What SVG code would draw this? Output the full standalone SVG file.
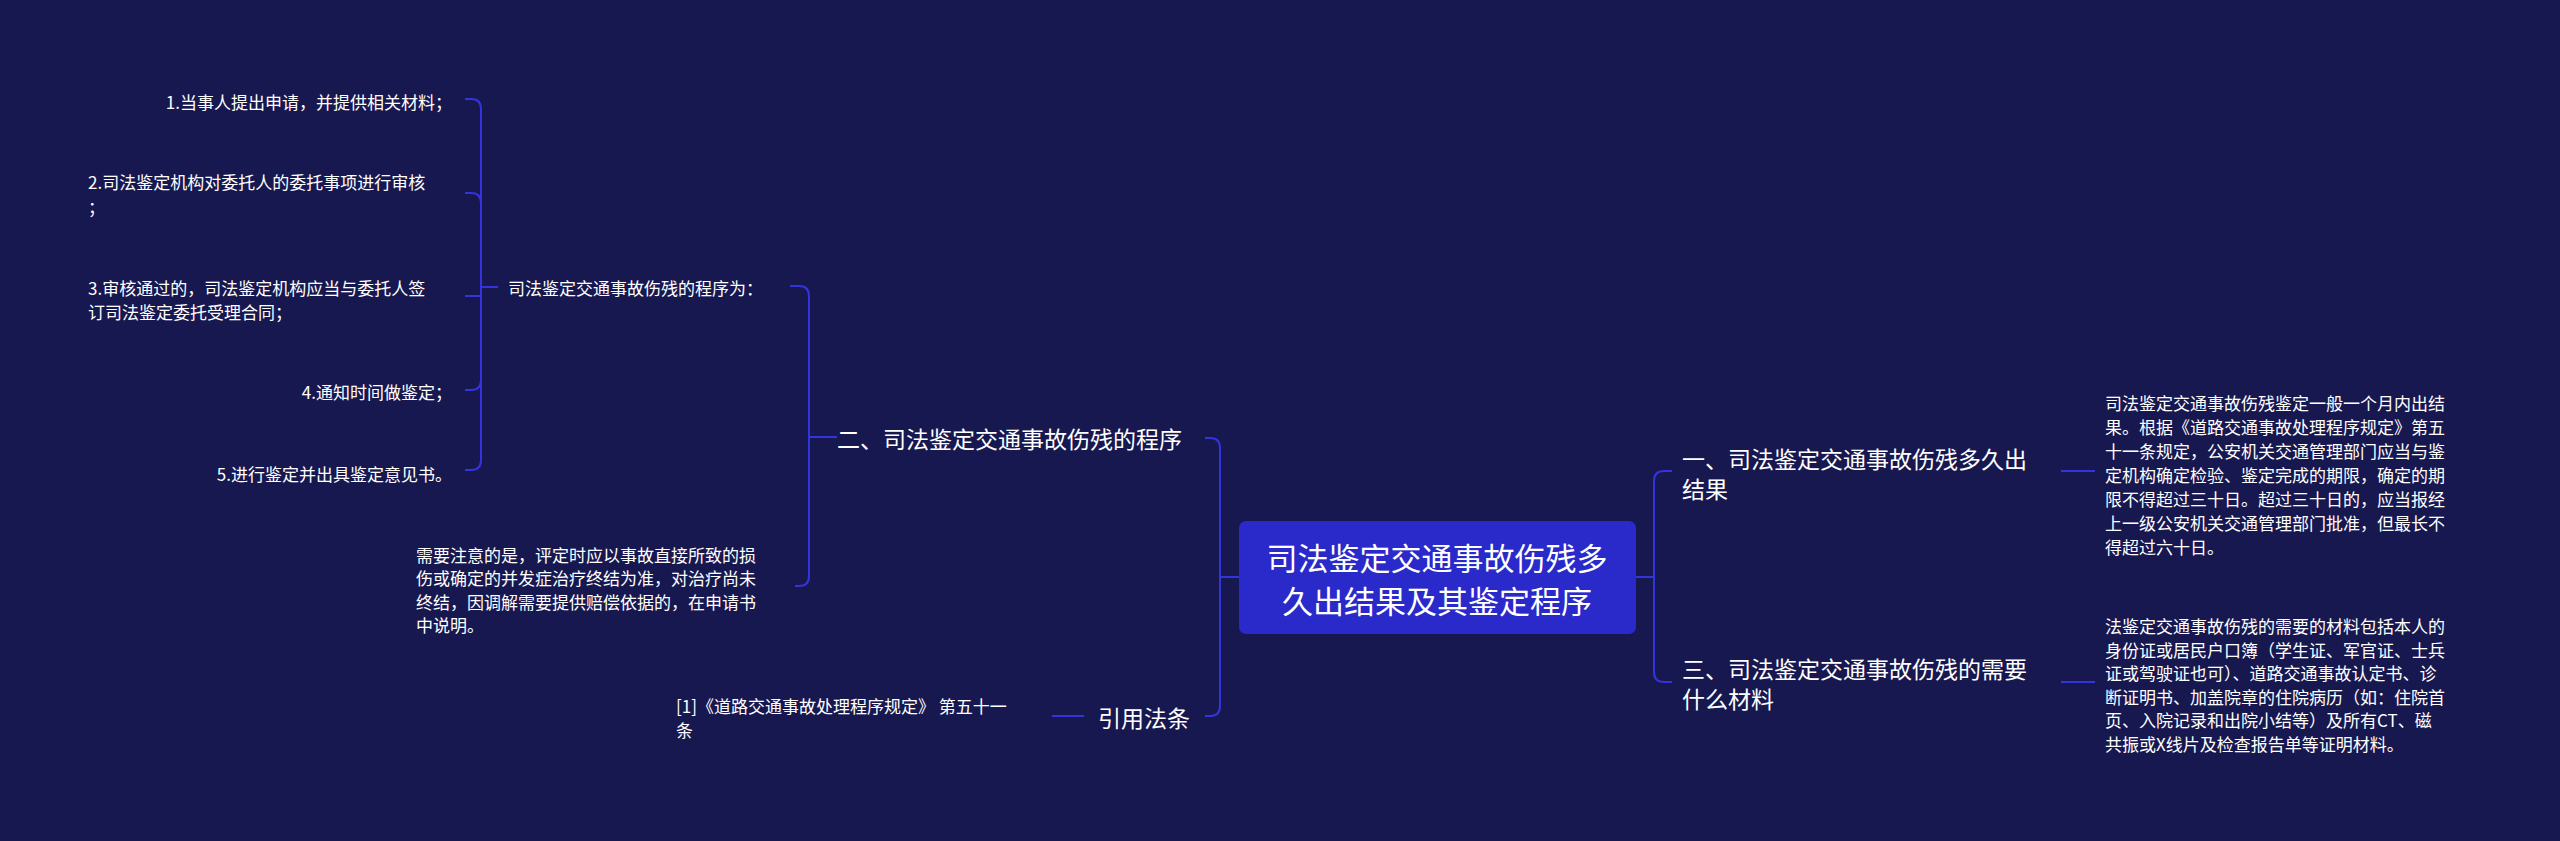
<svg xmlns="http://www.w3.org/2000/svg" width="2560" height="841" viewBox="0 0 2560 841">
<style>
text{font-family:"Noto Sans CJK SC","Noto Sans",sans-serif;fill:#ffffff;dominant-baseline:central}
.s{font-size:17px}.m{font-size:23px}.c{font-size:31px}
.e{text-anchor:end}
#connectors path{fill:none;stroke:#3434dc;stroke-width:2}
</style>
<rect width="2560" height="841" fill="#181850"/>
<g id="connectors">
<path d="M1636 577 H1654 V481 Q1654 471 1664 471 H1672"/>
<path d="M1654 577 V672 Q1654 682 1664 682 H1672"/>
<path d="M2061 471 H2095"/>
<path d="M2061 682 H2095"/>
<path d="M1239 577 H1220 V448 Q1220 438 1210 438 H1205"/>
<path d="M1220 577 V706 Q1220 716 1210 716 H1205"/>
<path d="M837 437 H809 V296 Q809 286 799 286 H790"/>
<path d="M809 437 V576 Q809 586 799 586 H795"/>
<path d="M1052 716 H1084"/>
<path d="M498 287 H481 V109 Q481 99 471 99 H465"/>
<path d="M481 287 V203 Q481 193 471 193 H465"/>
<path d="M481 287 V296 H465"/>
<path d="M481 287 V380 Q481 390 471 390 H465"/>
<path d="M481 287 V460 Q481 470 471 470 H465"/>
</g>
<g id="center">
<rect x="1239" y="521" width="397" height="113" rx="7" fill="#2a2acb"/>
<text class="c" x="1437" y="556" text-anchor="middle">司法鉴定交通事故伤残多</text>
<text class="c" x="1437" y="599" text-anchor="middle">久出结果及其鉴定程序</text>
</g>
<g id="b1">
<text class="m" x="1682" y="458">一、司法鉴定交通事故伤残多久出</text>
<text class="m" x="1682" y="488">结果</text>
</g>
<g id="b1d">
<text class="s" x="2105" y="402">司法鉴定交通事故伤残鉴定一般一个月内出结</text>
<text class="s" x="2105" y="426">果。根据《道路交通事故处理程序规定》第五</text>
<text class="s" x="2105" y="450">十一条规定，公安机关交通管理部门应当与鉴</text>
<text class="s" x="2105" y="474">定机构确定检验、鉴定完成的期限，确定的期</text>
<text class="s" x="2105" y="498">限不得超过三十日。超过三十日的，应当报经</text>
<text class="s" x="2105" y="522">上一级公安机关交通管理部门批准，但最长不</text>
<text class="s" x="2105" y="546">得超过六十日。</text>
</g>
<g id="b3">
<text class="m" x="1682" y="668">三、司法鉴定交通事故伤残的需要</text>
<text class="m" x="1682" y="698">什么材料</text>
</g>
<g id="b3d">
<text class="s" x="2105" y="625">法鉴定交通事故伤残的需要的材料包括本人的</text>
<text class="s" x="2105" y="649">身份证或居民户口簿（学生证、军官证、士兵</text>
<text class="s" x="2105" y="672">证或驾驶证也可）、道路交通事故认定书、诊</text>
<text class="s" x="2105" y="696">断证明书、加盖院章的住院病历（如：住院首</text>
<text class="s" x="2105" y="719">页、入院记录和出院小结等）及所有CT、磁</text>
<text class="s" x="2105" y="743">共振或X线片及检查报告单等证明材料。</text>
</g>
<g id="b2"><text class="m" x="837" y="438">二、司法鉴定交通事故伤残的程序</text></g>
<g id="b4"><text class="m" x="1098" y="717">引用法条</text></g>
<g id="b4d">
<text class="s" x="676" y="705">[1]《道路交通事故处理程序规定》 第五十一</text>
<text class="s" x="676" y="729">条</text>
</g>
<g id="p"><text class="s" x="508" y="287">司法鉴定交通事故伤残的程序为：</text></g>
<g id="note">
<text class="s" x="416" y="554">需要注意的是，评定时应以事故直接所致的损</text>
<text class="s" x="416" y="577">伤或确定的并发症治疗终结为准，对治疗尚未</text>
<text class="s" x="416" y="601">终结，因调解需要提供赔偿依据的，在申请书</text>
<text class="s" x="416" y="624">中说明。</text>
</g>
<g id="i1"><text class="s e" x="452" y="101">1.当事人提出申请，并提供相关材料；</text></g>
<g id="i2">
<text class="s" x="88" y="181">2.司法鉴定机构对委托人的委托事项进行审核</text>
<text class="s" x="88" y="206">；</text>
</g>
<g id="i3">
<text class="s" x="88" y="287">3.审核通过的，司法鉴定机构应当与委托人签</text>
<text class="s" x="88" y="311">订司法鉴定委托受理合同；</text>
</g>
<g id="i4"><text class="s e" x="452" y="391">4.通知时间做鉴定；</text></g>
<g id="i5"><text class="s e" x="452" y="473">5.进行鉴定并出具鉴定意见书。</text></g>
</svg>
